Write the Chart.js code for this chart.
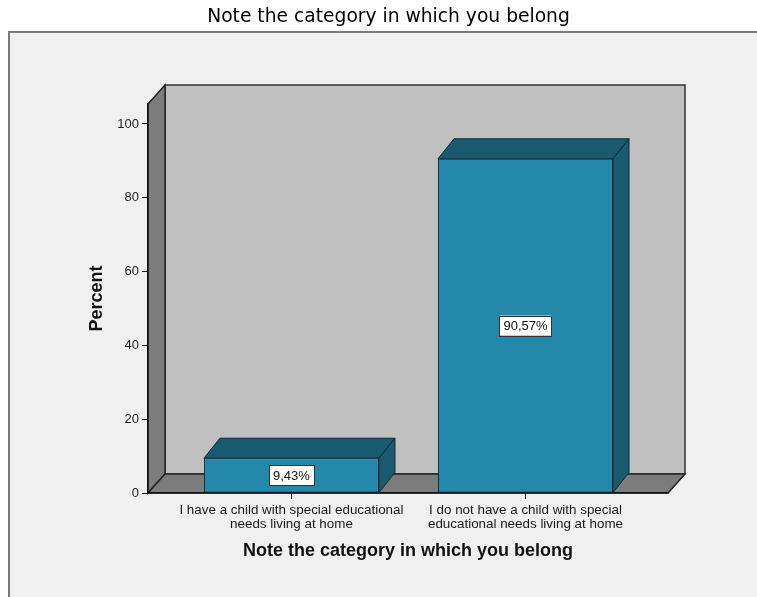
<!DOCTYPE html>
<html>
<head>
<meta charset="utf-8">
<script src="https://cdn.jsdelivr.net/npm/chart.js@4/dist/chart.umd.min.js"></script>
<style>
  html, body { margin: 0; padding: 0; background: #fff; }
  canvas { display: block; }
</style>
</head>
<body>
<canvas id="chart" width="757" height="597"></canvas>
<script>
const chartTitle = "Note the category in which you belong";
const xTitle = "Note the category in which you belong";
const yTitle = "Percent";
const categories = [
    ["I have a child with special educational", "needs living at home"],
    ["I do not have a child with special", "educational needs living at home"],
];
const percents = [9.43, 90.57];
const yTicks = [0, 20, 40, 60, 80, 100];

// 3D depth offsets (walls and bars)
const WALL_DX = 17, WALL_DY = -19;
const BAR_DX = 16, BAR_DY = -20;

Chart.defaults.font.family = 'Arial, "Liberation Sans", sans-serif';

function poly(ctx, pts, fill, stroke, lw) {
    ctx.beginPath();
    ctx.moveTo(pts[0][0], pts[0][1]);
    for (let i = 1; i < pts.length; i++) ctx.lineTo(pts[i][0], pts[i][1]);
    ctx.closePath();
    ctx.fillStyle = fill;
    ctx.fill();
    ctx.strokeStyle = stroke || "#222";
    ctx.lineWidth = lw || 1;
    ctx.stroke();
}

const box3d = {
    id: "box3d",
    beforeDraw(chart) {
        const { ctx, chartArea: a } = chart;
        ctx.save();
        ctx.fillStyle = "#fff";
        ctx.fillRect(0, 0, chart.width, chart.height);
        ctx.fillStyle = "#f0f0f0";
        ctx.fillRect(9, 32, chart.width, chart.height);
        ctx.strokeStyle = "#7b7b7b";
        ctx.lineWidth = 2;
        ctx.beginPath();
        ctx.moveTo(9, chart.height);
        ctx.lineTo(9, 32);
        ctx.lineTo(chart.width, 32);
        ctx.stroke();

        const l = a.left, r = a.right, t = a.top, b = a.bottom;
        poly(ctx, [[l + WALL_DX, t + WALL_DY], [r + WALL_DX, t + WALL_DY], [r + WALL_DX, b + WALL_DY], [l + WALL_DX, b + WALL_DY]], "#c0c0c0", "#333", 1.5);
        poly(ctx, [[l, t], [l + WALL_DX, t + WALL_DY], [l + WALL_DX, b + WALL_DY], [l, b]], "#7d7d7d", "#222", 1.5);
        poly(ctx, [[l, b], [l + WALL_DX, b + WALL_DY], [r + WALL_DX, b + WALL_DY], [r, b]], "#7c7c7c", "#222", 1.5);
        ctx.restore();
    },
    afterDatasetsDraw(chart) {
        const { ctx } = chart;
        ctx.save();
        chart.getDatasetMeta(0).data.forEach((bar, i) => {
            const { x, y, base, width } = bar.getProps(["x", "y", "base", "width"], true);
            const x0 = x - width / 2, x1 = x + width / 2;
            poly(ctx, [[x0, y], [x0 + BAR_DX, y + BAR_DY], [x1 + BAR_DX, y + BAR_DY], [x1, y]], "#1a5a70", "#0d2a35", 1);
            poly(ctx, [[x1, y], [x1 + BAR_DX, y + BAR_DY], [x1 + BAR_DX, base + BAR_DY], [x1, base]], "#1a5b71", "#0d2a35", 1);

            const text = percents[i].toFixed(2).replace(".", ",") + "%";
            ctx.font = '13px Arial, "Liberation Sans", sans-serif';
            const w = ctx.measureText(text).width + 8;
            const h = 20;
            const cy = (y + base) / 2;
            ctx.fillStyle = "#fff";
            ctx.fillRect(x - w / 2, cy - h / 2, w, h);
            ctx.strokeStyle = "#333";
            ctx.lineWidth = 1;
            ctx.strokeRect(Math.round(x - w / 2) + 0.5, Math.round(cy - h / 2) + 0.5, Math.round(w), h);
            ctx.fillStyle = "#111";
            ctx.textAlign = "center";
            ctx.textBaseline = "middle";
            ctx.fillText(text, x, cy + 1);
        });
        ctx.restore();
    },
};

new Chart(document.getElementById("chart"), {
    type: "bar",
    data: {
        datasets: [{
            data: categories.map((c, i) => ({ x: i, y: percents[i] })),
            backgroundColor: "#2488ab",
            borderColor: "#0d2a35",
            borderWidth: 1,
            borderSkipped: false,
            categoryPercentage: 1,
            barPercentage: 0.748,
        }],
    },
    options: {
        responsive: false,
        animation: false,
        devicePixelRatio: 1,
        layout: { padding: { left: 20, right: 0, top: 0, bottom: 0 } },
        plugins: {
            legend: { display: false },
            tooltip: { enabled: false },
            title: {
                display: true,
                text: chartTitle,
                color: "#000",
                font: { family: '"DejaVu Sans", sans-serif', size: 18.7, weight: "normal", lineHeight: 1.2 },
                padding: { top: 6.3, bottom: 75.3 },
            },
        },
        scales: {
            x: {
                type: "linear",
                offset: false,
                min: -0.613,
                max: 1.609,
                afterBuildTicks: (axis) => { axis.ticks = categories.map((c, i) => ({ value: i })); },
                afterFit: (axis) => { axis.height = 104; },
                grid: { offset: false, drawOnChartArea: false, drawTicks: true, tickLength: 6, color: "#222" },
                border: { display: true, color: "#111", width: 1.5 },
                ticks: {
                    autoSkip: false,
                    maxRotation: 0,
                    padding: 5,
                    color: "#1a1a1a",
                    font: { size: 13.4, lineHeight: 1 },
                    callback: (value) => categories[value],
                },
                title: {
                    display: true,
                    text: xTitle,
                    color: "#111",
                    font: { size: 18, weight: "bold", lineHeight: 1.2 },
                    padding: { top: 0, bottom: 34.7 },
                },
            },
            y: {
                min: 0,
                max: 105.4,
                afterBuildTicks: (axis) => { axis.ticks = yTicks.map((v) => ({ value: v })); },
                afterFit: (axis) => { axis.width = 128; },
                grid: { drawOnChartArea: false, drawTicks: true, tickLength: 6, color: "#222" },
                border: { display: true, color: "#111", width: 1.5 },
                ticks: { padding: 3, color: "#222", font: { size: 13 } },
                title: {
                    display: true,
                    text: yTitle,
                    color: "#111",
                    font: { size: 18, weight: "bold", lineHeight: 1.2 },
                    padding: { top: 66.2, bottom: 0 },
                },
            },
            pad: {
                type: "linear",
                position: "right",
                display: true,
                grid: { display: false },
                border: { display: false },
                ticks: { display: false },
                afterFit: (axis) => { axis.width = 89; },
            },
        },
    },
    plugins: [box3d],
});
</script>
</body>
</html>
